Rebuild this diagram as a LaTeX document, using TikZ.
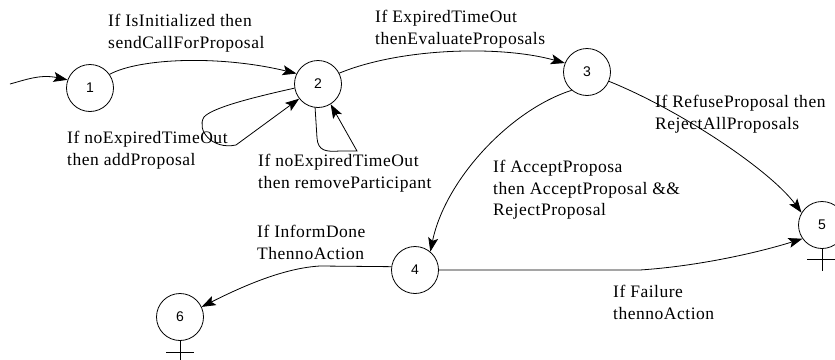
\documentclass[tikz,border=0pt]{standalone}
\usepackage{fontspec}
\setmainfont{Liberation Serif}
\newfontfamily\lblfont[LetterSpace=3]{Liberation Serif}
\newfontfamily\numfont{Liberation Sans}
\usetikzlibrary{arrows.meta}
\begin{document}
\begin{tikzpicture}[x=1pt,y=-1pt,
  state/.style={circle,draw,line width=0.8pt,minimum size=47pt,inner sep=0pt,font=\numfont\fontsize{14}{14}\selectfont},
  trans/.style={line width=0.8pt,-{Stealth[length=14pt,width=10pt,inset=3pt]}},
  plain/.style={line width=0.8pt},
  lbl/.style={anchor=north west,inner sep=0pt,align=left,font=\lblfont\fontsize{17.5}{21.5}\selectfont}]
\useasboundingbox (0,0) rectangle (835,359);
\clip (0,0) rectangle (835,359);
% states
\node[state] (n1) at (90,88) {1};
\node[state] (n2) at (318,84) {2};
\node[state] (n3) at (587,72) {3};
\node[state] (n4) at (415,270) {4};
\node[state] (n5) at (822,225) {5};
\node[state] (n6) at (180,317) {6};
% final-state marks
\coordinate (f5a) at (807,259); \coordinate (f5b) at (835,259);
\draw[plain] (n5.south) -- ++(0,22);
\draw[plain] (f5a) -- (f5b);
\coordinate (f6a) at (166,352); \coordinate (f6b) at (194,352);
\draw[plain] (n6.south) -- ++(0,22);
\draw[plain] (f6a) -- (f6b);
% initial transition
\coordinate (start) at (10,84);
\draw[trans] (start) .. controls (25,80) and (40,74) .. (n1.160);
% transitions
\draw[trans] (n1.35) .. controls (140,58) and (220,55) .. (n2.154);
\draw[trans] (n2.27) .. controls (400,48) and (500,45) .. (n3.158);
\draw[trans] (n2.190) .. controls (250,98) and (212,108) .. (204,117)
   .. controls (196,130) and (212,150) .. (236,145) -- (n2.218);
\draw[trans] (n2.263) -- (317,138) .. controls (318,151) and (326,152) .. (340,151)
   -- (357,151) -- (n2.302);
\draw[trans] (n3.230) .. controls (510,110) and (445,180) .. (n4.50);
\draw[trans] (n3.337) .. controls (680,110) and (770,170) .. (n5.149);
\draw[trans] (n4.east) -- (640,270) .. controls (700,266) and (760,252) .. (n5.215);
\draw[trans] (n4.172) -- (320,266) .. controls (285,268) and (245,285) .. (n6.25);
% labels
\node[lbl] (l12) at (108,14) {If IsInitialized then\\sendCallForProposal};
\node[lbl] (l23) at (375,10) {If ExpiredTimeOut\\thenEvaluateProposals};
\node[lbl] (l35) at (655,95) {If RefuseProposal then\\RejectAllProposals};
\node[lbl] (lap) at (67,131) {If noExpiredTimeOut\\then addProposal};
\node[lbl] (lrp) at (258,154) {If noExpiredTimeOut\\then removeParticipant};
\node[lbl] (l34) at (493,160) {If AcceptProposa\\then AcceptProposal \&\&\\RejectProposal};
\node[lbl] (l46) at (257,225) {If InformDone\\ThennoAction};
\node[lbl] (l45) at (613,285) {If Failure\\thennoAction};
\end{tikzpicture}
\end{document}
